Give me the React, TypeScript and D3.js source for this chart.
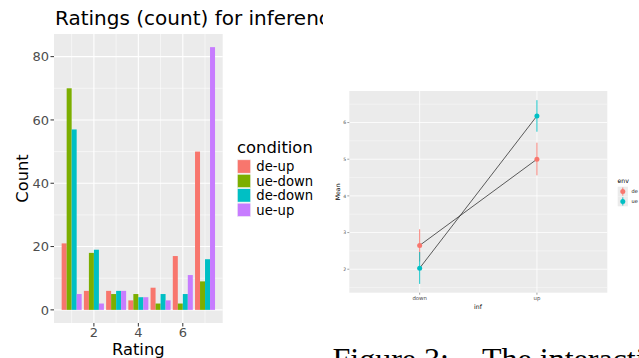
import React from "react";
import * as d3 from "d3";

const ratings = [1, 2, 3, 4, 5, 6, 7];
const conditions = ["de-up", "ue-down", "de-down", "ue-up"];
const condColors = ["#F8766D", "#7CAE00", "#00BFC4", "#C77CFF"];
const deUp = [21, 6, 6, 3, 7, 17, 50];
const ueDown = [70, 18, 5, 5, 2, 2, 9];
const deDown = [57, 19, 6, 4, 5, 5, 16];
const ueUp = [5, 2, 6, 4, 3, 11, 83];
const countTicks = [0, 20, 40, 60, 80];
const countMinor = [10, 30, 50, 70];
const ratingTicks = [2, 4, 6];
const ratingMinor = [1, 3, 5, 7];

const infLevels = ["down", "up"];
const envLevels = ["de", "ue"];
const envColors = ["#F8766D", "#00BFC4"];
const deMean = [2.65, 5.0];
const deLow = [2.21, 4.56];
const deHigh = [3.09, 5.45];
const ueMean = [2.03, 6.18];
const ueLow = [1.6, 5.75];
const ueHigh = [2.47, 6.61];
const meanTicks = [2, 3, 4, 5, 6];
const meanMinor = [1.5, 2.5, 3.5, 4.5, 5.5, 6.5];

const SANS = "DejaVu Sans, sans-serif";

export default function App() {
  const series = [deUp, ueDown, deDown, ueUp];
  const xL = d3.scaleLinear().domain([0.205, 7.795]).range([54, 222.7]);
  const yL = d3.scaleLinear().domain([-4.15, 87.15]).range([323, 34]);
  const band = d3.scaleBand().domain(conditions).range([-0.45, 0.45]);

  const xR = d3.scaleLinear().domain([0.4, 2.6]).range([349.3, 607.3]);
  const yR = d3.scaleLinear().domain([1.36, 6.86]).range([292.7, 91]);
  const envData = [
    { mean: deMean, low: deLow, high: deHigh },
    { mean: ueMean, low: ueLow, high: ueHigh },
  ];
  const line = d3
    .line<number>()
    .x((_, i) => xR(i + 1))
    .y((d) => yR(d));

  const [lx0, lx1] = xL.range();
  const [ly0, ly1] = yL.range();
  const [rx0, rx1] = xR.range();
  const [ry0, ry1] = yR.range();

  return (
    <svg
      width={639}
      height={358}
      style={{ position: "absolute", left: 0, top: 0, background: "#fff" }}
    >
      <defs>
        <clipPath id="leftclip">
          <rect x={0} y={0} width={323} height={358} />
        </clipPath>
        <clipPath id="rightclip">
          <rect x={0} y={0} width={639} height={358} />
        </clipPath>
      </defs>

      {/* LEFT CHART */}
      <g clipPath="url(#leftclip)">
        <text x={55} y={25} fontFamily={SANS} fontSize={20} fill="#000">
          Ratings (count) for inference
        </text>
        <rect x={lx0} y={ly1} width={lx1 - lx0} height={ly0 - ly1} fill="#EBEBEB" />
        {countMinor.map((v) => (
          <line key={"ym" + v} x1={lx0} x2={lx1} y1={yL(v)} y2={yL(v)} stroke="#fff" strokeWidth={0.55} />
        ))}
        {ratingMinor.map((v) => (
          <line key={"xm" + v} x1={xL(v)} x2={xL(v)} y1={ly1} y2={ly0} stroke="#fff" strokeWidth={0.55} />
        ))}
        {countTicks.map((v) => (
          <line key={"yM" + v} x1={lx0} x2={lx1} y1={yL(v)} y2={yL(v)} stroke="#fff" strokeWidth={1.1} />
        ))}
        {ratingTicks.map((v) => (
          <line key={"xM" + v} x1={xL(v)} x2={xL(v)} y1={ly1} y2={ly0} stroke="#fff" strokeWidth={1.1} />
        ))}
        {series.map((vals, si) =>
          vals.map((v, ri) => (
            <rect
              key={si + "-" + ri}
              x={xL(ratings[ri] + (band(conditions[si]) as number))}
              width={xL(band.bandwidth()) - xL(0)}
              y={yL(v)}
              height={yL(0) - yL(v)}
              fill={condColors[si]}
            />
          ))
        )}
        {countTicks.map((v) => (
          <g key={"yt" + v}>
            <line x1={lx0 - 3.5} x2={lx0} y1={yL(v)} y2={yL(v)} stroke="#333" strokeWidth={1} />
            <text x={lx0 - 5} y={yL(v)} dy="0.36em" textAnchor="end" fontFamily={SANS} fontSize={13} fill="#4D4D4D">
              {v}
            </text>
          </g>
        ))}
        {ratingTicks.map((v) => (
          <g key={"xt" + v}>
            <line x1={xL(v)} x2={xL(v)} y1={ly0} y2={ly0 + 3.5} stroke="#333" strokeWidth={1} />
            <text x={xL(v)} y={336.5} textAnchor="middle" fontFamily={SANS} fontSize={13} fill="#4D4D4D">
              {v}
            </text>
          </g>
        ))}
        <text x={138.3} y={355} textAnchor="middle" fontFamily={SANS} fontSize={16.3} fill="#000">
          Rating
        </text>
        <text
          transform={`translate(27.5,${(ly0 + ly1) / 2}) rotate(-90)`}
          textAnchor="middle"
          fontFamily={SANS}
          fontSize={16.3}
          fill="#000"
        >
          Count
        </text>
        <text x={237} y={153.3} fontFamily={SANS} fontSize={16.4} fill="#000">
          condition
        </text>
        {conditions.map((c, i) => (
          <g key={"lg" + c}>
            <rect x={237.3} y={159.8 + i * 14.45} width={13.4} height={13.4} fill={condColors[i]} stroke="#f4f4f4" strokeWidth={0.6} />
            <text x={256.3} y={159.8 + i * 14.45 + 6.7} dy="0.36em" fontFamily={SANS} fontSize={13.2} fill="#000">
              {c}
            </text>
          </g>
        ))}
      </g>

      {/* RIGHT CHART */}
      <g clipPath="url(#rightclip)">
        <rect x={rx0} y={ry1} width={rx1 - rx0} height={ry0 - ry1} fill="#EBEBEB" />
        {meanMinor.map((v) => (
          <line key={"rm" + v} x1={rx0} x2={rx1} y1={yR(v)} y2={yR(v)} stroke="#fff" strokeWidth={0.4} />
        ))}
        {meanTicks.map((v) => (
          <line key={"rM" + v} x1={rx0} x2={rx1} y1={yR(v)} y2={yR(v)} stroke="#fff" strokeWidth={0.8} />
        ))}
        {infLevels.map((l, i) => (
          <line key={"rx" + l} x1={xR(i + 1)} x2={xR(i + 1)} y1={ry1} y2={ry0} stroke="#fff" strokeWidth={0.8} />
        ))}
        {envData.map((e, ei) =>
          e.mean.map((_, i) => (
            <line
              key={"eb" + ei + i}
              x1={xR(i + 1)}
              x2={xR(i + 1)}
              y1={yR(e.low[i])}
              y2={yR(e.high[i])}
              stroke={envColors[ei]}
              strokeWidth={0.9}
            />
          ))
        )}
        {envData.map((e, ei) => (
          <path key={"ln" + ei} d={line(e.mean) as string} fill="none" stroke="#1a1a1a" strokeWidth={0.7} />
        ))}
        {envData.map((e, ei) =>
          e.mean.map((m, i) => (
            <circle key={"pt" + ei + i} cx={xR(i + 1)} cy={yR(m)} r={2.5} fill={envColors[ei]} />
          ))
        )}
        {meanTicks.map((v) => (
          <g key={"rty" + v}>
            <line x1={rx0 - 2} x2={rx0} y1={yR(v)} y2={yR(v)} stroke="#444" strokeWidth={0.5} />
            <text x={rx0 - 3} y={yR(v)} dy="0.36em" textAnchor="end" fontFamily={SANS} fontSize={4.6} fill="#4D4D4D">
              {v}
            </text>
          </g>
        ))}
        {infLevels.map((l, i) => (
          <g key={"rtx" + l}>
            <line x1={xR(i + 1)} x2={xR(i + 1)} y1={ry0} y2={ry0 + 2} stroke="#444" strokeWidth={0.5} />
            <text x={xR(i + 1)} y={ry0 + 7.5} textAnchor="middle" fontFamily={SANS} fontSize={5.4} fill="#4D4D4D">
              {l}
            </text>
          </g>
        ))}
        <text x={478} y={308.5} textAnchor="middle" fontFamily={SANS} fontSize={6.2} fill="#000">
          inf
        </text>
        <text
          transform={`translate(339.5,${(ry0 + ry1) / 2}) rotate(-90)`}
          textAnchor="middle"
          fontFamily={SANS}
          fontSize={6.2}
          fill="#000"
        >
          Mean
        </text>
        <text x={617.5} y={183} fontFamily={SANS} fontSize={6.2} fill="#000">
          env
        </text>
        {envLevels.map((l, i) => (
          <g key={"rl" + l}>
            <rect x={617.7} y={186.7 + i * 9.8} width={10.2} height={9.8} fill="#EBEBEB" />
            <line x1={622.8} x2={622.8} y1={187.5 + i * 9.8} y2={195.7 + i * 9.8} stroke={envColors[i]} strokeWidth={0.9} />
            <circle cx={622.8} cy={191.6 + i * 9.8} r={2.5} fill={envColors[i]} />
            <text x={631.5} y={191.6 + i * 9.8} dy="0.36em" fontFamily={SANS} fontSize={5} fill="#000">
              {l}
            </text>
          </g>
        ))}
      </g>

      {/* CAPTION */}
      <text x={332.5} y={370} fontFamily="Liberation Serif, Times New Roman, serif" fontSize={32} fill="#000">
        Figure 3:
      </text>
      <text x={482} y={370} fontFamily="Liberation Serif, Times New Roman, serif" fontSize={32} fill="#000">
        The interaction
      </text>
    </svg>
  );
}
